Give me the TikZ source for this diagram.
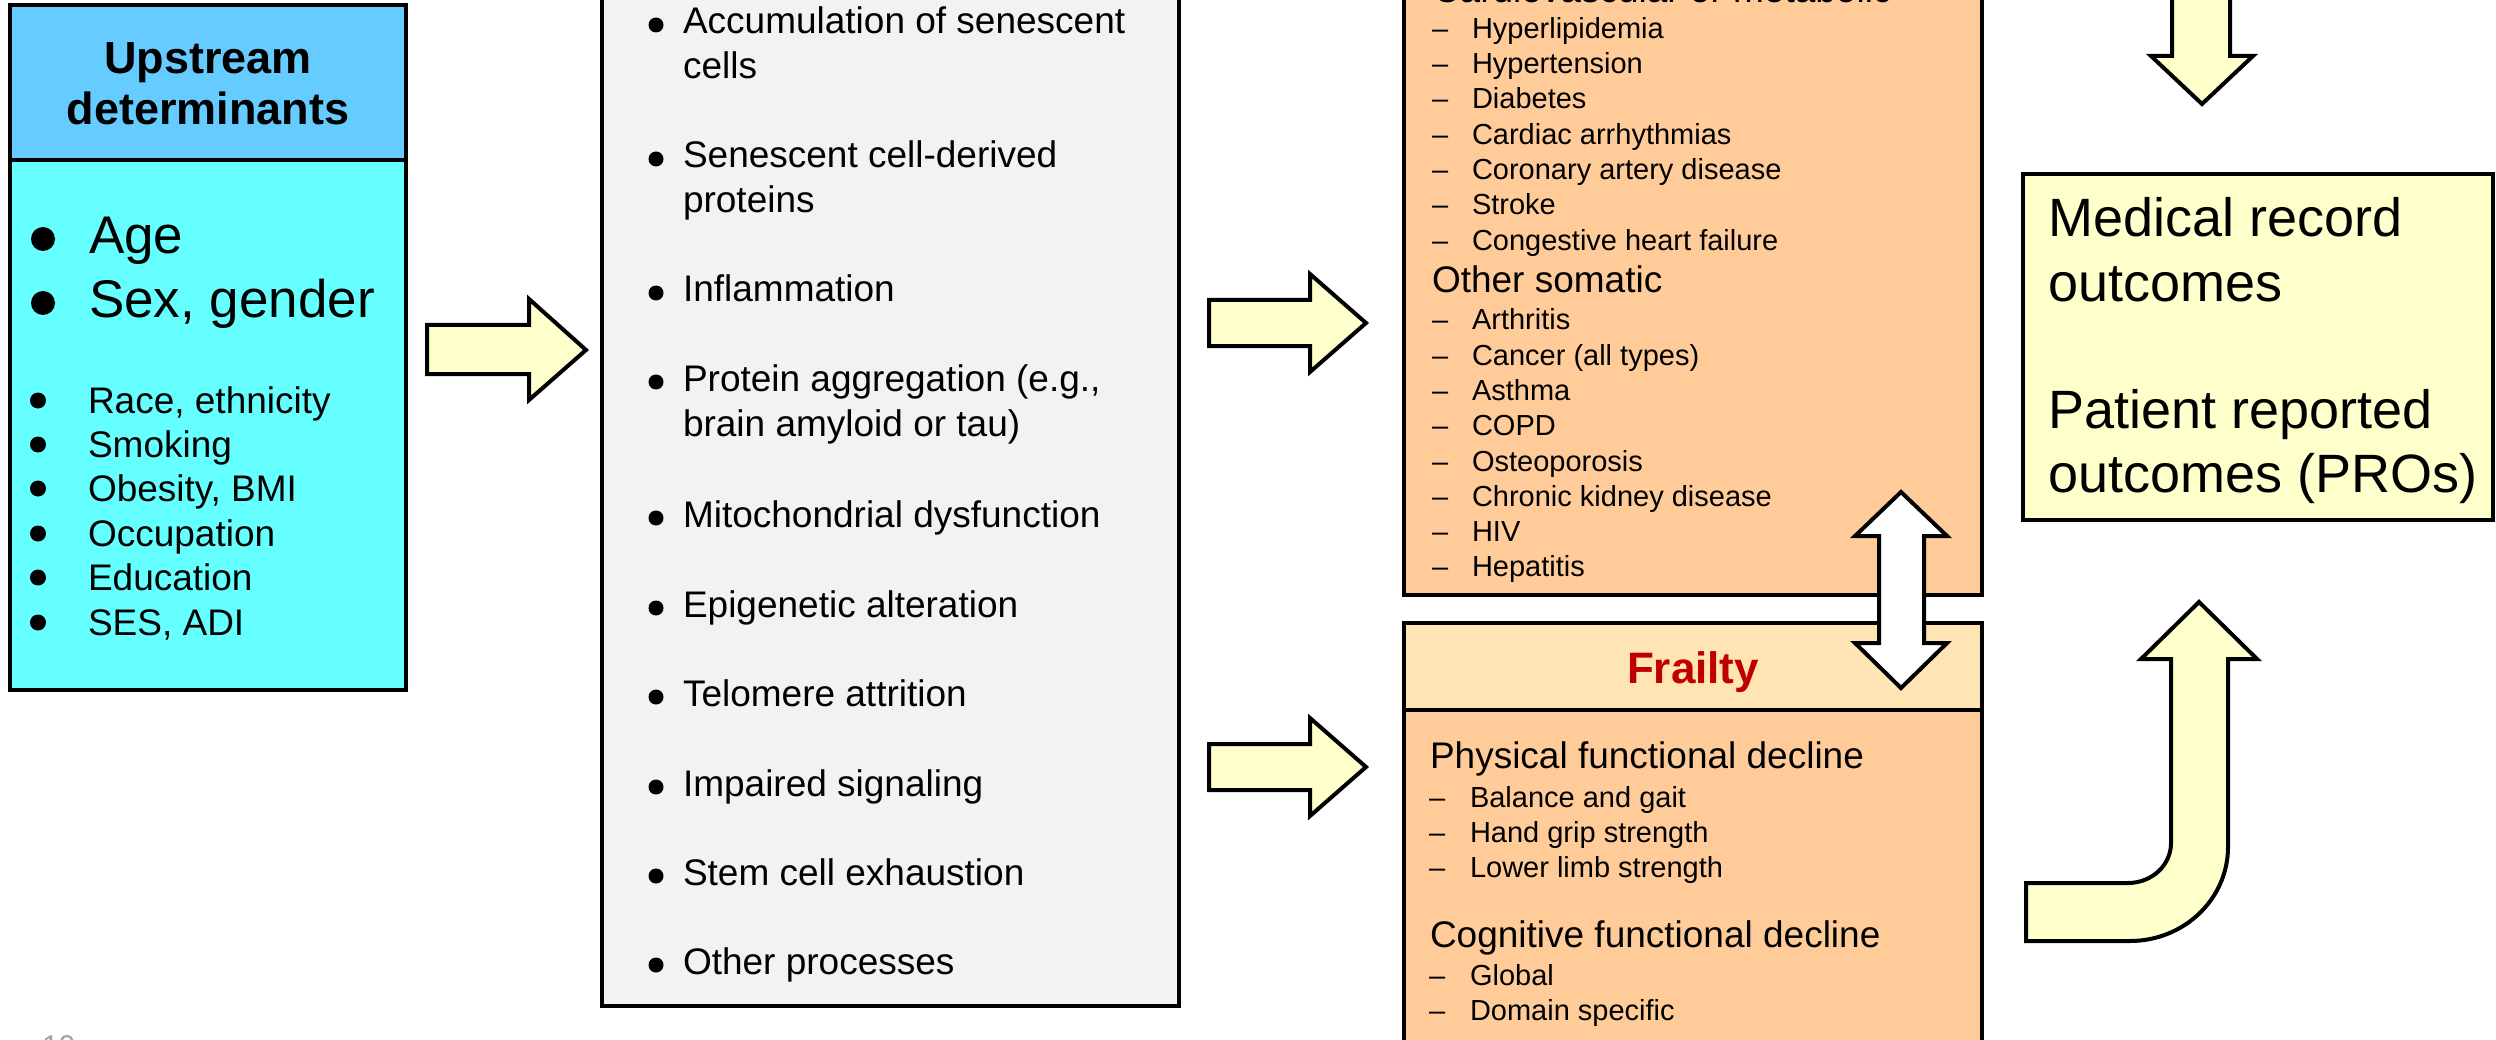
\documentclass[tikz,border=0pt]{standalone}
\usepackage{fontspec}
\setmainfont{Liberation Sans}
\definecolor{bluehead}{HTML}{66CCFF}
\definecolor{bluebody}{HTML}{66FFFF}
\definecolor{grayfill}{HTML}{F2F2F2}
\definecolor{orangefill}{HTML}{FFCC99}
\definecolor{frailfill}{HTML}{FFE5B3}
\definecolor{lightyellow}{HTML}{FFFFCC}
\definecolor{frailred}{HTML}{C00000}
\definecolor{pagegray}{HTML}{A0A0A0}
\tikzset{
  box/.style={draw=black, line width=4.5pt, inner sep=0pt, outer sep=0pt, anchor=north west},
  tx/.style={anchor=base west, inner sep=0pt, outer sep=0pt},
  f37/.style={tx, font=\fontsize{37pt}{44pt}\selectfont},
  f29/.style={tx, font=\fontsize{29pt}{35pt}\selectfont},
  f53/.style={tx, font=\fontsize{53pt}{64pt}\selectfont},
  f54/.style={tx, font=\fontsize{54pt}{65pt}\selectfont},
  hdr/.style={anchor=base, inner sep=0pt, outer sep=0pt, font=\fontsize{45pt}{52pt}\selectfont\bfseries},
  blockarrow/.style={draw=black, line width=4pt, fill=lightyellow, line join=miter},
  whitearrow/.style={draw=black, line width=4pt, fill=white, line join=miter},
}
\begin{document}
\begin{tikzpicture}[x=1pt,y=-1pt]
\useasboundingbox (0,0) rectangle (2496,1040);
\clip (0,0) rectangle (2496,1040);

% ---------- Upstream determinants ----------
\node[box, fill=bluehead, minimum width=396pt, minimum height=155pt] (bluehead) at (10,5) {};
\node[box, fill=bluebody, minimum width=396pt, minimum height=530pt] (bluebody) at (10,160) {};
\node[hdr] (up1) at (208,74) {Upstream};
\node[hdr] (up2) at (208,125) {determinants};
\node[f53] (age) at (89,254) {Age};
\node[f53] (sex) at (89,318) {Sex, gender};
\fill (43,239) circle (12pt);
\fill (43,303) circle (12pt);
\foreach \y/\t [count=\i] in {413/{Race, ethnicity}, 457/Smoking, 501/{Obesity, BMI}, 546/Occupation, 590/Education, 635/{SES, ADI}}{
  \node[f37] (det\i) at (88,\y) {\t};
  \fill (38,\y-12.5) circle (8pt);
}

% ---------- Mechanisms ----------
\node[box, fill=grayfill, minimum width=577pt, minimum height=1026pt] (mech) at (602,-20) {};
\foreach \y/\t [count=\i] in {34/Accumulation of senescent, 79/cells, 168/Senescent cell-derived, 213/proteins, 302/Inflammation, 391/{Protein aggregation (e.g.,}, 436/brain amyloid or tau), 527/Mitochondrial dysfunction, 617/Epigenetic alteration, 706/Telomere attrition, 796/Impaired signaling, 885/Stem cell exhaustion, 974/Other processes}{
  \node[f37] (mech\i) at (683,\y) {\t};
}
\foreach \y in {34,168,302,391,527,617,706,796,885,974}{
  \fill (656,\y-9) circle (7.5pt);
}

% ---------- Chronic conditions ----------
\node[box, fill=orangefill, minimum width=578pt, minimum height=615pt] (chronic) at (1404,-20) {};
\node[f37] (cvm) at (1433,3) {Cardiovascular or metabolic};
\foreach \y/\t [count=\i] in {38.5/Hyperlipidemia, 73.8/Hypertension, 109/Diabetes, 144.4/Cardiac arrhythmias, 179.7/Coronary artery disease, 215/Stroke, 250.3/Congestive heart failure}{
  \node[f29] (cvd\i) at (1432,\y) {\textendash};
  \node[f29] (cv\i) at (1472,\y) {\t};
}
\node[f37] (oso) at (1432,293) {Other somatic};
\foreach \y/\t [count=\i] in {330/Arthritis, 365/Cancer (all types), 400/Asthma, 435/COPD, 471/Osteoporosis, 506/Chronic kidney disease, 541/HIV, 576/Hepatitis}{
  \node[f29] (sod\i) at (1432,\y) {\textendash};
  \node[f29] (so\i) at (1472,\y) {\t};
}

% ---------- Frailty ----------
\node[box, fill=frailfill, minimum width=578pt, minimum height=87pt] (frailhead) at (1404,623) {};
\node[box, fill=orangefill, minimum width=578pt, minimum height=360pt] (frailbody) at (1404,710) {};
\node[anchor=base, inner sep=0pt, font=\fontsize{44pt}{52pt}\selectfont\bfseries, text=frailred] (frailty) at (1693,683) {Frailty};
\node[f37] (phys) at (1430,768) {Physical functional decline};
\foreach \y/\t [count=\i] in {807/Balance and gait, 842/Hand grip strength, 877/Lower limb strength}{
  \node[f29] (phd\i) at (1429,\y) {\textendash};
  \node[f29] (ph\i) at (1470,\y) {\t};
}
\node[f37] (cog) at (1430,947) {Cognitive functional decline};
\foreach \y/\t [count=\i] in {985/Global, 1020/Domain specific}{
  \node[f29] (cgd\i) at (1429,\y) {\textendash};
  \node[f29] (cg\i) at (1470,\y) {\t};
}

% ---------- Outcomes ----------
\node[box, fill=lightyellow, minimum width=470pt, minimum height=346pt] (outcomes) at (2023,174) {};
\node[f54] (o1) at (2048,237) {Medical record};
\node[f54] (o2) at (2048,302) {outcomes};
\node[f54] (o3) at (2048,428) {Patient reported};
\node[f54] (o4) at (2048,492) {outcomes (PROs)};

% ---------- Block arrows ----------
\draw[blockarrow] (427,325) -- (529,325) -- (529,299) -- (586,350) -- (529,400) -- (529,374) -- (427,374) -- cycle;
\draw[blockarrow] (1209,300) -- (1310,300) -- (1310,274) -- (1366,323) -- (1310,372) -- (1310,346) -- (1209,346) -- cycle;
\draw[blockarrow] (1209,744) -- (1310,744) -- (1310,718) -- (1366,767) -- (1310,816) -- (1310,790) -- (1209,790) -- cycle;
\draw[blockarrow] (2172,-10) -- (2172,56) -- (2151,56) -- (2202,104) -- (2253,56) -- (2230,56) -- (2230,-10) -- cycle;
\draw[whitearrow] (1879,536) -- (1855,536) -- (1901,492) -- (1947,536) -- (1924,536) -- (1924,643) -- (1947,643) -- (1901,688) -- (1855,643) -- (1879,643) -- cycle;
\draw[blockarrow] (2026,883) -- (2128,883) .. controls (2152,883) and (2171,865) .. (2171,843) -- (2171,659) -- (2141,659) -- (2199,602) -- (2257,659) -- (2228,659) -- (2228,847) .. controls (2228,899) and (2184,941) .. (2130,941) -- (2026,941) -- cycle;

% ---------- page number ----------
\node[tx, font=\fontsize{30pt}{36pt}\selectfont, text=pagegray] (pagenum) at (42,1056) {10};
\end{tikzpicture}
\end{document}
